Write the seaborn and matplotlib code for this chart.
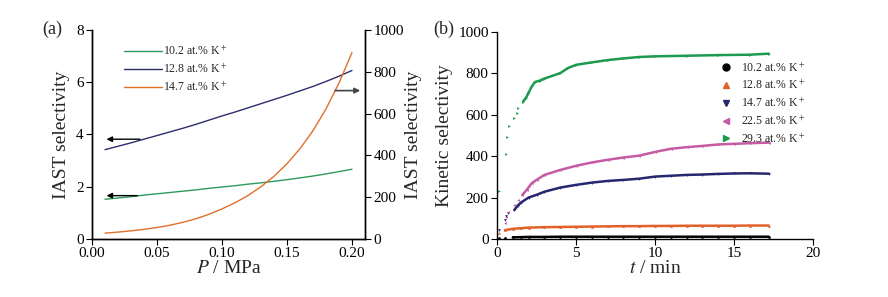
import seaborn as sns
import matplotlib
matplotlib.use('Agg')
from matplotlib import pyplot as plt
from matplotlib.lines import Line2D

# Panel (a): IAST selectivity vs pressure
pressure = [0.01, 0.02, 0.03, 0.04, 0.05, 0.06, 0.07, 0.08, 0.09, 0.10,
            0.11, 0.12, 0.13, 0.14, 0.15, 0.16, 0.17, 0.18, 0.19, 0.20]
iast_102 = [1.52, 1.57, 1.62, 1.68, 1.73, 1.78, 1.83, 1.88, 1.94, 1.99,
            2.04, 2.10, 2.15, 2.21, 2.27, 2.34, 2.41, 2.49, 2.58, 2.67]
iast_128 = [3.42, 3.55, 3.68, 3.82, 3.96, 4.10, 4.24, 4.39, 4.55, 4.71,
            4.86, 5.02, 5.18, 5.34, 5.50, 5.67, 5.84, 6.03, 6.23, 6.45]
iast_147 = [28, 33, 39, 46, 55, 66, 80, 97, 118, 144,
            173, 208, 250, 300, 360, 432, 518, 622, 746, 892]
labels_a = ['10.2 at.% K$^+$', '12.8 at.% K$^+$', '14.7 at.% K$^+$']
colors_a = ['#2e9a5a', '#2d2d6e', '#e0702a']

# Panel (b): kinetic selectivity vs time
t_102 = [0.1, 0.5, 1.0, 1.5, 2.0, 3, 4, 5, 6, 7, 8, 9, 10, 11, 12, 13, 14, 15, 16, 17.2]
k_102 = [3, 6, 8, 9, 10, 10, 11, 11, 11, 11, 11, 11, 11, 11, 11, 11, 11, 11, 11, 11]
t_128 = [0.1, 0.5, 1.0, 1.5, 2.0, 3, 4, 5, 6, 7, 8, 9, 10, 11, 12, 13, 14, 15, 16, 17.2]
k_128 = [30, 43, 49, 52, 55, 57, 58, 59, 60, 61, 62, 62, 63, 63, 64, 64, 64, 64, 65, 65]
t_147 = [0.1, 0.5, 0.6, 0.7, 1.1, 1.3, 1.5, 2.0, 2.5, 3, 4, 5, 6, 7, 8, 9, 10, 11, 12, 13, 14, 15, 16, 17.2]
k_147 = [45, 90, 110, 125, 140, 160, 175, 200, 213, 228, 248, 261, 272, 280, 285, 291, 301,
         305, 309, 311, 314, 316, 317, 315]
t_225 = [0.5, 0.57, 0.69, 1.08, 1.31, 1.6, 1.88, 2.2, 2.5, 3, 4, 5, 6, 7, 8, 9, 10, 11, 12, 13, 14, 15, 16, 17.2]
k_225 = [79, 108, 130, 164, 188, 212, 237, 269, 285, 309, 333, 353, 369, 382, 393, 402, 420,
         435, 443, 449, 456, 459, 462, 465]
t_293 = [0.13, 0.57, 0.63, 0.76, 1.1, 1.27, 1.35, 1.65, 1.84, 1.99, 2.2, 2.4, 2.7, 3, 4, 4.5,
         5, 6, 7, 8, 9, 10, 12, 14, 16, 17.2]
k_293 = [233, 412, 494, 547, 583, 610, 630, 663, 682, 704, 736, 757, 764, 774, 800, 825,
         840, 852, 863, 871, 878, 881, 884, 887, 889, 894]
labels_b = ['10.2 at.% K$^+$', '12.8 at.% K$^+$', '14.7 at.% K$^+$',
            '22.5 at.% K$^+$', '29.3 at.% K$^+$']
colors_b = ['#000000', '#e0622a', '#25286e', '#c65aa5', '#1c9a50']
markers_b = ['o', '^', 'v', '<', '>']
line_start = [1.0, 0.5, 1.0, 1.5, 1.6]

sns.set_style('ticks')
plt.rcParams['font.family'] = ['Liberation Serif', 'DejaVu Serif']
plt.rcParams['mathtext.fontset'] = 'stix'
plt.rcParams['axes.linewidth'] = 1.0
plt.rcParams['xtick.major.size'] = 4
plt.rcParams['ytick.major.size'] = 4
plt.rcParams['xtick.color'] = 'black'
plt.rcParams['ytick.color'] = 'black'
plt.rcParams['axes.edgecolor'] = 'black'

fig = plt.figure(figsize=(8.88, 2.97), dpi=100)
ax = fig.add_axes([0.1036, 0.1953, 0.3074, 0.7037])
ax2 = ax.twinx()

sns.lineplot(x=pressure, y=iast_102, ax=ax, color=colors_a[0], lw=1.0, label=labels_a[0])
sns.lineplot(x=pressure, y=iast_128, ax=ax, color=colors_a[1], lw=1.0, label=labels_a[1])
sns.lineplot(x=pressure, y=iast_147, ax=ax2, color=colors_a[2], lw=1.0, legend=False)

ax.set_xlim(0, 0.21)
ax.set_ylim(0, 8)
ax2.set_ylim(0, 1000)
ax.set_xticks([0.00, 0.05, 0.10, 0.15, 0.20])
ax.set_xticklabels(['0.00', '0.05', '0.10', '0.15', '0.20'])
ax.set_yticks([0, 2, 4, 6, 8])
ax2.set_yticks([0, 200, 400, 600, 800, 1000])
ax.tick_params(labelsize=11, pad=2)
ax2.tick_params(labelsize=11, pad=2)
ax.set_xlabel('$P$ / MPa', fontsize=14, labelpad=0)
ax.set_ylabel('IAST selectivity', fontsize=14, labelpad=4)
ax2.set_ylabel('IAST selectivity', fontsize=14, labelpad=1)
for a in (ax, ax2):
    a.spines['top'].set_visible(False)

# legend with all three lines
handles = [Line2D([0], [0], color=c, lw=1.0) for c in colors_a]
ax.legend(handles, labels_a, loc='upper left', bbox_to_anchor=(0.08, 0.98), frameon=False,
          fontsize=8.5, handlelength=3.2, handletextpad=0.1, labelspacing=0.35)

# arrows pointing to the axes
arrow = dict(arrowstyle='-|>', color='black', lw=1.0, mutation_scale=8)
ax.annotate('', xy=(0.009, 3.82), xytext=(0.039, 3.82), arrowprops=arrow)
ax.annotate('', xy=(0.009, 1.66), xytext=(0.037, 1.66), arrowprops=arrow)
ax2.annotate('', xy=(0.2085, 710), xytext=(0.185, 710),
             arrowprops=dict(arrowstyle='-|>', color='#444444', lw=1.2, mutation_scale=8))
fig.text(0.048, 0.885, '(a)', fontsize=13)

# Panel (b)
bx = fig.add_axes([0.5597, 0.1953, 0.3558, 0.698])
series = [(t_102, k_102), (t_128, k_128), (t_147, k_147), (t_225, k_225), (t_293, k_293)]
for (t, k), c, m, t0 in zip(series, colors_b, markers_b, line_start):
    tl = [x for x in t if x >= t0]
    kl = [y for x, y in zip(t, k) if x >= t0]
    sns.lineplot(x=tl, y=kl, ax=bx, color=c, lw=1.8, estimator=None, legend=False)
    sns.scatterplot(x=t, y=k, ax=bx, color=c, marker=m, s=4, linewidth=0, legend=False)

bx.set_xlim(0, 20)
bx.set_ylim(0, 1000)
bx.set_xticks([0, 5, 10, 15, 20])
bx.set_yticks([0, 200, 400, 600, 800, 1000])
bx.tick_params(labelsize=11, pad=2)
bx.set_xlabel('$t$ / min', fontsize=14, labelpad=0)
bx.set_ylabel('Kinetic selectivity', fontsize=14, labelpad=4)
sns.despine(ax=bx)

handles_b = [Line2D([0], [0], color=c, marker=m, lw=0, markersize=5)
             for c, m in zip(colors_b, markers_b)]
bx.legend(handles_b, labels_b, loc='upper left', bbox_to_anchor=(0.67, 0.91), frameon=False,
          fontsize=8.5, handlelength=1.2, handletextpad=0.6, labelspacing=0.35)
fig.text(0.488, 0.885, '(b)', fontsize=13)

fig.savefig('out.png', dpi=100)
